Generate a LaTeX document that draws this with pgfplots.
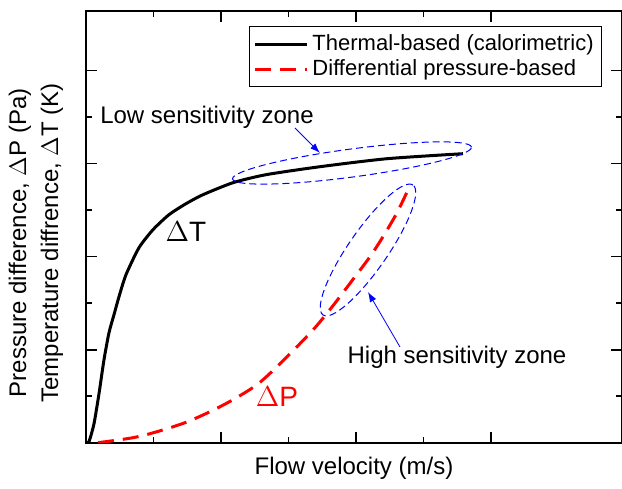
\documentclass[border=0pt]{standalone}
\usepackage{pgfplots}
\pgfplotsset{compat=1.18}
\usepackage{fontspec}
\setmainfont{Liberation Sans}
\usetikzlibrary{shapes.geometric,arrows.meta}

% data in units of the original picture (1 unit = 1 px)
\pgfplotstableread{
x y
0 0
3 1
8 19
13 49
18 83
23 110
28 128
33 146
40 168
53 195
67 213
83 228
100 239
117 248
147 260
180 268
234 276
301 284
377 289
}\thermal

\pgfplotstableread{
x y
12 0
47 5
71 11
99 20
124 31
147 43
171 58
191 76
211 96
229 115
247 137
266 162
284 186
297 206
311 230
324 257
}\pressure

\begin{document}
\begin{tikzpicture}
\begin{axis}[
    scale only axis,
    width=268pt,
    height=215.85pt,
    xmin=0, xmax=536,
    ymin=0, ymax=431.7,
    xtick={0,135,270,405},
    ytick={0,93,186,279,372},
    minor x tick num=1,
    minor y tick num=1,
    xticklabels={}, yticklabels={},
    tick align=inside,
    major tick length=5.5pt,
    minor tick length=3pt,
    every tick/.style={black, line width=0.8pt},
    axis line style={line width=1pt},
    xlabel={Flow velocity (m/s)},
    ylabel={Pressure difference, $\Delta$P (Pa)\\Temperature diffrence, $\Delta$T (K)},
    label style={font=\fontsize{12}{16}\selectfont},
    xlabel style={at={(axis description cs:0.5,0)}, anchor=center, yshift=-13pt},
    ylabel style={at={(axis description cs:0,0.463)}, anchor=center, rotate=0, yshift=25pt, align=center},
    legend style={
        at={(axis description cs:0.963,0.965)},
        anchor=north east,
        draw=black,
        line width=0.5pt,
        font=\fontsize{11}{13}\selectfont,
        row sep=-1pt,
        inner sep=2pt
    },
    legend cell align=left,
    legend image code/.code={\draw[#1] (0pt,0pt) -- (26pt,0pt);}
]

\addplot[black, line width=1.5pt, smooth, tension=0.4] table[x=x, y=y] {\thermal};
\addlegendentry{Thermal-based (calorimetric)}

\addplot[red, line width=1.5pt, dash pattern=on 8pt off 4.5pt, smooth, tension=0.5] table[x=x, y=y] {\pressure};
\addlegendentry{Differential pressure-based}

% zones
\node[draw=blue, line width=0.5pt, dash pattern=on 3.5pt off 2pt, ellipse,
      minimum width=120.5pt, minimum height=14pt, inner sep=0pt, rotate=7.6]
      at (axis cs:266,279.7) {};
\node[draw=blue, line width=0.5pt, dash pattern=on 3.5pt off 2pt, ellipse,
      minimum width=79pt, minimum height=19.5pt, inner sep=0pt, rotate=55.3]
      at (axis cs:282,192.7) {};

\draw[blue, line width=0.4pt, -{Latex[length=5pt,width=3.5pt]}] (axis cs:209,314.7) -- (axis cs:234,289.7);
\draw[blue, line width=0.4pt, -{Latex[length=5pt,width=3.5pt]}] (axis cs:314,95.7) -- (axis cs:282,150.7);

\node[font=\fontsize{12}{14}\selectfont] at (axis cs:121,325.7) {Low sensitivity zone};
\node[font=\fontsize{12}{14}\selectfont] at (axis cs:371,85.7) {High sensitivity zone};
\node[font=\fontsize{14}{16}\selectfont] at (axis cs:100,210.7) {$\Delta$T};
\node[font=\fontsize{14}{16}\selectfont, red] at (axis cs:191,45.7) {$\Delta$P};

\coordinate (bl) at (axis cs:-86,-45.3);
\coordinate (tr) at (axis cs:536,442.7);
\end{axis}
\pgfresetboundingbox
\path (bl) rectangle (tr);
\end{tikzpicture}
\end{document}
